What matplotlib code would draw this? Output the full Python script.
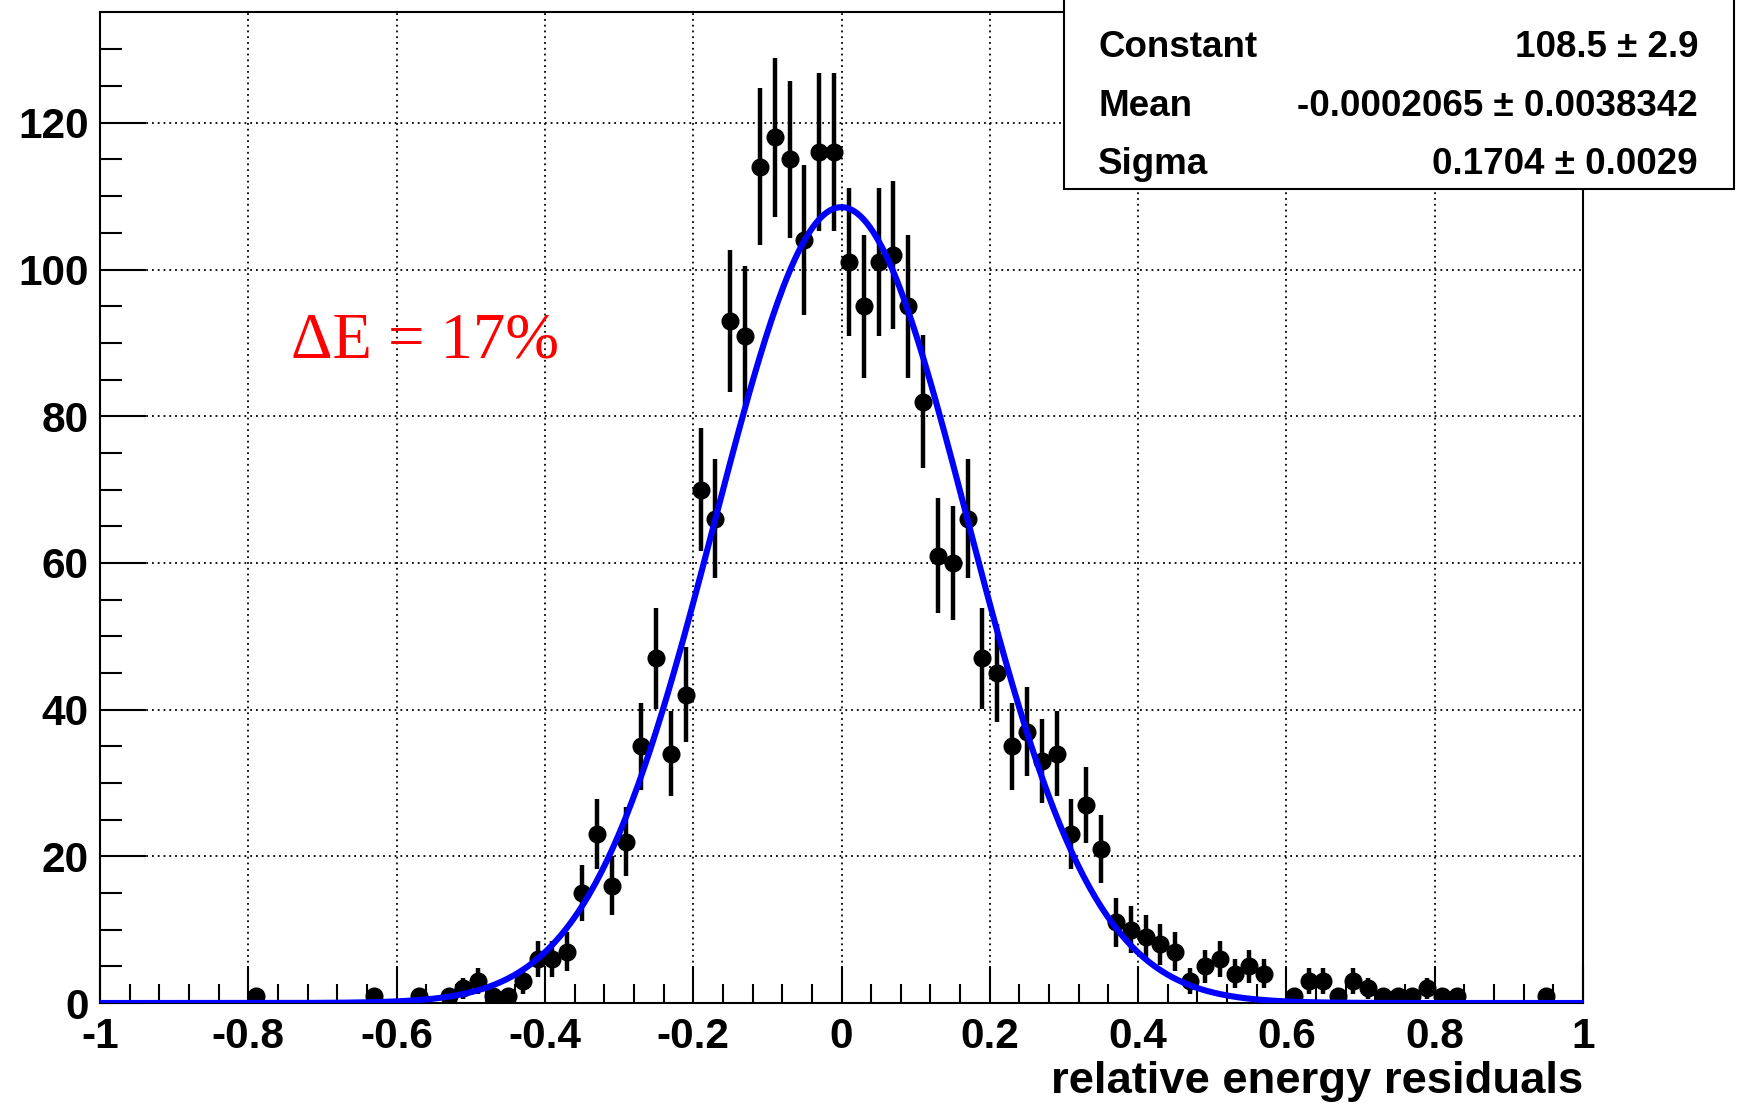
import numpy as np
import matplotlib.pyplot as plt
from matplotlib.patches import Rectangle

# histogram bins that have entries (bin width 0.02)
bin_centers = [-0.79, -0.63, -0.57, -0.53, -0.51, -0.49, -0.47, -0.45, -0.43, -0.41,
               -0.39, -0.37, -0.35, -0.33, -0.31, -0.29, -0.27, -0.25, -0.23, -0.21,
               -0.19, -0.17, -0.15, -0.13, -0.11, -0.09, -0.07, -0.05, -0.03, -0.01,
               0.01, 0.03, 0.05, 0.07, 0.09, 0.11, 0.13, 0.15, 0.17, 0.19,
               0.21, 0.23, 0.25, 0.27, 0.29, 0.31, 0.33, 0.35, 0.37, 0.39,
               0.41, 0.43, 0.45, 0.47, 0.49, 0.51, 0.53, 0.55, 0.57, 0.61,
               0.63, 0.65, 0.67, 0.69, 0.71, 0.73, 0.75, 0.77, 0.79, 0.81,
               0.83, 0.95]
counts = [1, 1, 1, 1, 2, 3, 1, 1, 3, 6,
          6, 7, 15, 23, 16, 22, 35, 47, 34, 42,
          70, 66, 93, 91, 114, 118, 115, 104, 116, 116,
          101, 95, 101, 102, 95, 82, 61, 60, 66, 47,
          45, 35, 37, 33, 34, 23, 27, 21, 11, 10,
          9, 8, 7, 3, 5, 6, 4, 5, 4, 1,
          3, 3, 1, 3, 2, 1, 1, 1, 2, 1,
          1, 1]

# gaussian fit parameters
fit_constant = 108.5
fit_mean = -0.0002065
fit_sigma = 0.1704

stats_labels = ['Constant', 'Mean', 'Sigma']
stats_values = ['108.5 ± 2.9', '-0.0002065 ± 0.0038342', '0.1704 ± 0.0029']

x_ticks = [-1, -0.8, -0.6, -0.4, -0.2, 0, 0.2, 0.4, 0.6, 0.8, 1]
x_ticklabels = ['-1', '-0.8', '-0.6', '-0.4', '-0.2', '0', '0.2', '0.4', '0.6', '0.8', '1']
y_ticks = [0, 20, 40, 60, 80, 100, 120]

plt.rcParams['font.family'] = 'Liberation Sans'
plt.rcParams['font.weight'] = 'bold'

fig = plt.figure(figsize=(17.43, 11.05), dpi=100)
ax = fig.add_axes([0.0574, 0.0923, 0.8508, 0.8968])

cnt = np.array(counts, dtype=float)
ax.errorbar(bin_centers, cnt, xerr=0.01, fmt='none', ecolor='k', elinewidth=1.5, zorder=3)
ax.errorbar(bin_centers, cnt, yerr=np.sqrt(cnt), fmt='o', color='k', ms=12,
            elinewidth=3.2, capsize=0, zorder=3)

xs = np.linspace(-1, 1, 500)
ax.plot(xs, fit_constant * np.exp(-0.5 * ((xs - fit_mean) / fit_sigma) ** 2),
        color='blue', lw=4.4, zorder=4)

ax.set_xlim(-1, 1)
ax.set_ylim(0, 135.1)
ax.set_xticks(x_ticks)
ax.set_xticklabels(x_ticklabels)
ax.set_xticks(np.arange(-1, 1.001, 0.04), minor=True)
ax.set_yticks(y_ticks)
ax.set_yticks(np.arange(0, 135, 5), minor=True)
ax.tick_params(which='both', direction='in', width=1.5, labelsize=30.5)
ax.tick_params(axis='x', which='major', length=27, pad=10)
ax.tick_params(axis='x', which='minor', length=14)
ax.tick_params(axis='y', which='major', length=33, pad=8)
ax.tick_params(axis='y', which='minor', length=16)
for s in ax.spines.values():
    s.set_linewidth(1.5)

ax.grid(True, which='major', color='k', linestyle=(0, (1, 2.2)), linewidth=1.3)
ax.set_axisbelow(True)

ax.set_xlabel('relative energy residuals', fontsize=32.7, fontweight='bold', loc='right', labelpad=3)

ax.text(-0.742, 88, 'ΔE = 17%', color='red', fontsize=46.5, family='Liberation Serif',
        fontweight='normal', va='baseline', ha='left')

# stats box
box = Rectangle((0.6104, 0.829), 0.3844, 0.3, transform=fig.transFigure,
                facecolor='white', edgecolor='black', linewidth=1.5, zorder=10, clip_on=False)
fig.patches.append(box)
row_y = [0.9567, 0.9038, 0.8513]
for lab, val, y in zip(stats_labels, stats_values, row_y):
    fig.text(0.630, y, lab, fontsize=26.5, fontweight='bold', va='center', ha='left', zorder=11)
    fig.text(0.9742, y, val, fontsize=26.5, fontweight='bold', va='center', ha='right', zorder=11)

fig.savefig('out.png', dpi=100)
